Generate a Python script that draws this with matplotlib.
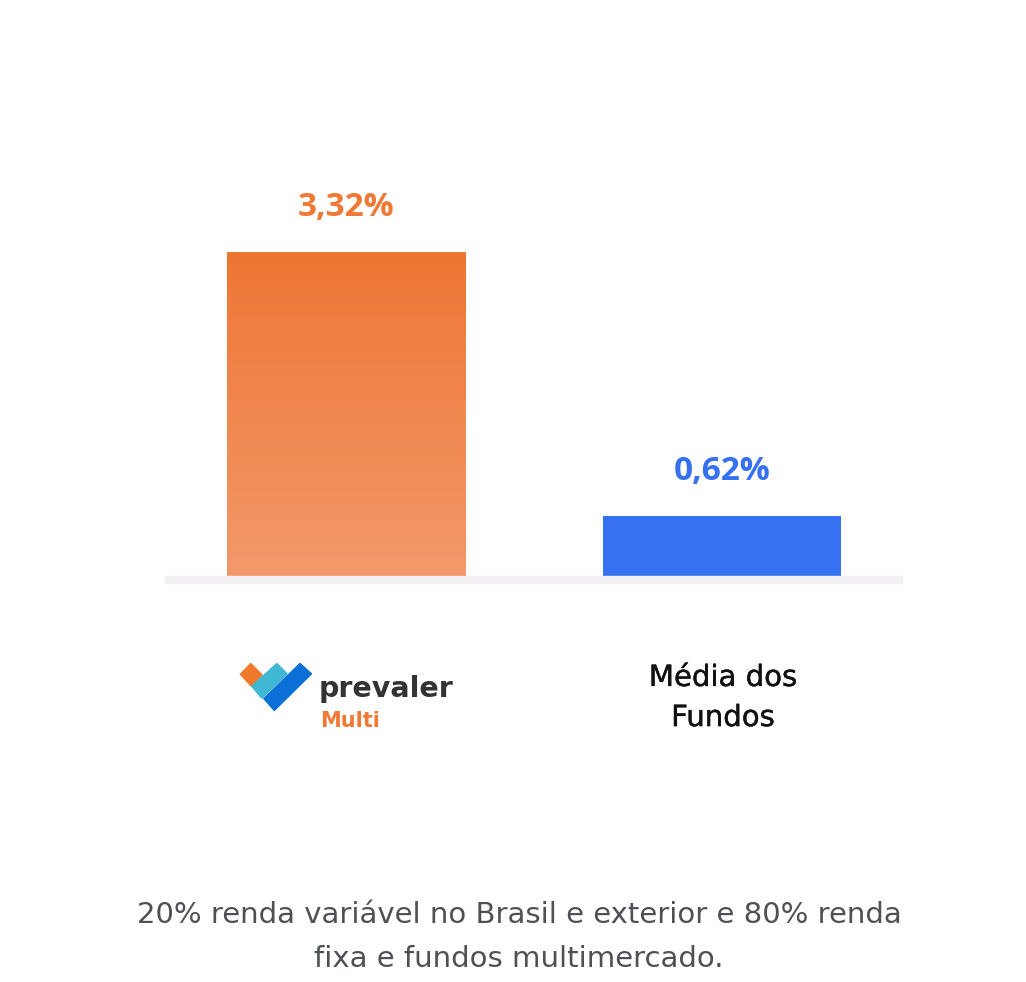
import matplotlib
matplotlib.use("Agg")
import matplotlib.pyplot as plt
from matplotlib.patches import Polygon, Rectangle
import matplotlib.patheffects as pe
import numpy as np

# ---- data ----
categories = ["Prevaler Multi", "Média dos\nFundos"]
values = [3.32, 0.62]
value_labels = ["3,32%", "0,62%"]
footnote = "20% renda variável no Brasil e exterior e 80% renda\nfixa e fundos multimercado."

W, H = 1026, 982
fig = plt.figure(figsize=(W / 100, H / 100), dpi=100)
fig.patch.set_facecolor("white")

def fx(px):
    return px / W

def fy(py):
    return 1 - py / H

# axes: x 165..902 px, bottom at 576 px, top at 150 px
ax_left, ax_right, ax_bottom, ax_top = 165, 902, 576, 150
ax = fig.add_axes([fx(ax_left), fy(ax_bottom), fx(ax_right - ax_left), (ax_bottom - ax_top) / H])
ax.set_axis_off()

x = np.arange(len(values))
bar_w = 0.633
xlim = (-0.481, 1.479)
ylim = (0, (ax_bottom - ax_top) / 97.5)

# orange gradient bar, blue solid bar
top_col = np.array([238, 118, 52]) / 255
bot_col = np.array([243, 153, 107]) / 255
grad = np.linspace(0, 1, 256)[:, None]
img = top_col[None, None, :] * (1 - grad[..., None]) + bot_col[None, None, :] * grad[..., None]
img = np.repeat(img, 2, axis=1)
ax.imshow(img, extent=(x[0] - bar_w / 2, x[0] + bar_w / 2, 0, values[0]),
          aspect="auto", zorder=2, interpolation="bilinear")
ax.bar(x[1], values[1], width=bar_w, color="#3571f0", zorder=2)
ax.set_xlim(*xlim)
ax.set_ylim(*ylim)

label_colors = ["#f07a35", "#3571f0"]
for xi, v, lab, c in zip(x, values, value_labels, label_colors):
    ax.annotate(lab, (xi, v), xytext=(0, 32), textcoords="offset points",
                ha="center", va="center", fontsize=24, fontweight="bold",
                color=c, family="Open Sans", annotation_clip=False)

# baseline band
fig.patches.append(Rectangle((fx(165), fy(582.5)), fx(902 - 165), 6.5 / H,
                             transform=fig.transFigure, color="#f2f0f3", zorder=1))

# category label (right)
fig.text(fx(723), fy(698), categories[1], ha="center", va="center",
         fontsize=21, color="#111111", linespacing=1.55, family="DejaVu Sans",
         path_effects=[pe.withStroke(linewidth=0.3, foreground="#111111")])

# logo
def poly(pts, color):
    fig.patches.append(Polygon([(fx(a), fy(b)) for a, b in pts], closed=True,
                               transform=fig.transFigure, color=color, zorder=3))

poly([(240.3, 674.3), (250.7, 663.5), (262.2, 675), (251.3, 686.2)], "#f07a2b")
poly([(251.8, 686.3), (276.7, 663.5), (287.2, 673.8), (261.7, 698.2)], "#3fb8d3")
poly([(263.8, 698.6), (300, 663.5), (311.5, 673.8), (274.3, 710.5)], "#0a6fd6")
fig.text(fx(319), fy(697), "prevaler", ha="left", va="baseline", fontsize=20.5,
         fontweight="bold", color="#333333", family="DejaVu Sans")
fig.text(fx(320), fy(721), "Multi", ha="left", va="center", fontsize=15,
         fontweight="bold", color="#f07a35", family="DejaVu Sans")

# footnote
fig.text(fx(519), fy(937), footnote, ha="center", va="center", fontsize=21,
         color="#4d5055", linespacing=1.72, family="DejaVu Sans")

fig.savefig("out.png", dpi=100, facecolor="white")
